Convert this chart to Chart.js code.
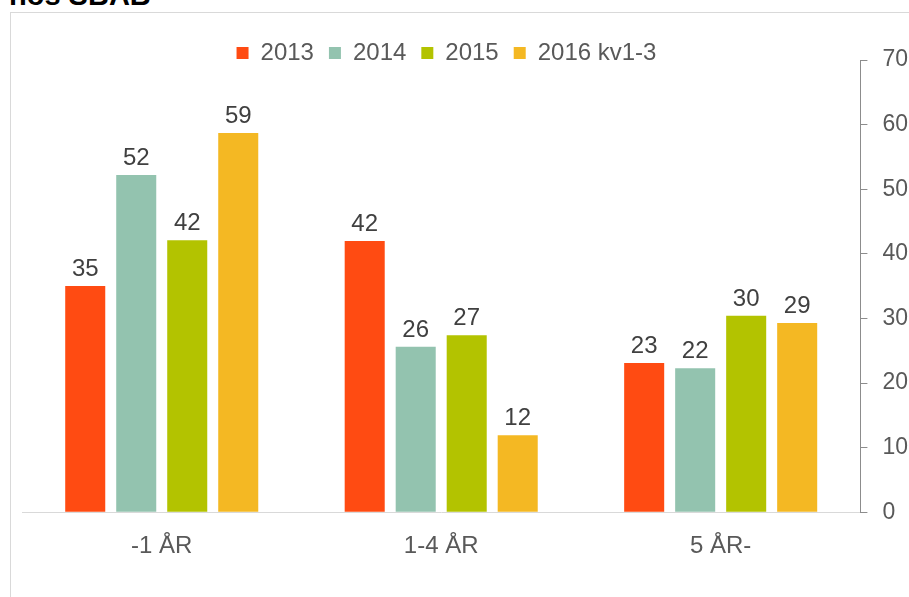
<!DOCTYPE html>
<html>
<head>
<meta charset="utf-8">
<script src="https://cdn.jsdelivr.net/npm/chart.js@4"></script>
<style>
  html, body { margin:0; padding:0; background:#fff; overflow:hidden; }
  body { width:909px; height:597px; position:relative; }
  #title { position:absolute; left:9px; top:-19px; font:bold 29px "Liberation Sans", Arial, sans-serif; color:#000; line-height:28px; white-space:nowrap; }
  #frame { position:absolute; left:10px; top:12px; width:920px; height:600px; border-left:1px solid #d9d9d9; border-top:1px solid #d9d9d9; pointer-events:none; }
  #wrap { position:absolute; left:0; top:0; width:925px; height:597px; }
</style>
</head>
<body>
<div id="title">hos SBAB</div>
<div id="frame"></div>
<div id="wrap"><canvas id="c" width="925" height="597"></canvas></div>
<script>
const categories = ['-1 ÅR', '1-4 ÅR', '5 ÅR-'];
const seriesNames = ['2013', '2014', '2015', '2016 kv1-3'];
const values2013 = [35, 42, 23.1];
const values2014 = [52.2, 25.6, 22.3];
const values2015 = [42.1, 27.4, 30.4];
const values2016 = [58.7, 11.9, 29.3];
const yTicks = [0, 10, 20, 30, 40, 50, 60, 70];
const seriesColors = ['#FF4B12', '#93C3AF', '#B3C300', '#F4B823'];

const FONT = '"Liberation Sans", Arial, sans-serif';

const valueLabels = {
  id: 'valueLabels',
  afterDatasetsDraw(chart) {
    const ctx = chart.ctx;
    ctx.save();
    ctx.font = '24px ' + FONT;
    ctx.fillStyle = '#404040';
    ctx.textAlign = 'center';
    ctx.textBaseline = 'alphabetic';
    chart.data.datasets.forEach((ds, i) => {
      const meta = chart.getDatasetMeta(i);
      meta.data.forEach((bar, j) => {
        ctx.fillText(String(Math.round(ds.data[j])), bar.x, bar.y - 10);
      });
    });
    ctx.restore();
  }
};

const legendShift = {
  id: 'legendShift',
  afterLayout(chart) {
    const lg = chart.legend;
    if (lg) { lg.left -= 26; lg.right -= 26; lg.top += 15; lg.bottom += 15; }
  }
};

new Chart(document.getElementById('c'), {
  type: 'bar',
  data: {
    labels: categories,
    datasets: [
      { label: seriesNames[0], data: values2013, backgroundColor: seriesColors[0] },
      { label: seriesNames[1], data: values2014, backgroundColor: seriesColors[1] },
      { label: seriesNames[2], data: values2015, backgroundColor: seriesColors[2] },
      { label: seriesNames[3], data: values2016, backgroundColor: seriesColors[3] }
    ]
  },
  options: {
    responsive: false,
    animation: false,
    devicePixelRatio: 1,
    layout: { padding: { left: 22, right: 2, top: 11, bottom: 24 } },
    datasets: { bar: { categoryPercentage: 0.73, barPercentage: 0.785 } },
    plugins: {
      tooltip: { enabled: false },
      legend: {
        position: 'top',
        labels: {
          boxWidth: 12, boxHeight: 12, padding: 15,
          color: '#595959',
          font: { family: FONT, size: 24 }
        }
      }
    },
    scales: {
      x: {
        grid: { display: false },
        border: { display: true, color: '#d9d9d9', width: 1 },
        ticks: { color: '#595959', padding: 12, font: { family: FONT, size: 24 } }
      },
      y: {
        position: 'right',
        min: 0, max: 70,
        afterBuildTicks(scale) { scale.ticks = yTicks.map(v => ({ value: v })); },
        grid: { drawOnChartArea: false, drawTicks: true, tickLength: 7, color: '#8c8c8c' },
        border: { display: true, color: '#8c8c8c', width: 1 },
        ticks: { color: '#595959', padding: 15, font: { family: FONT, size: 23 } }
      }
    }
  },
  plugins: [valueLabels, legendShift]
});
</script>
</body>
</html>
